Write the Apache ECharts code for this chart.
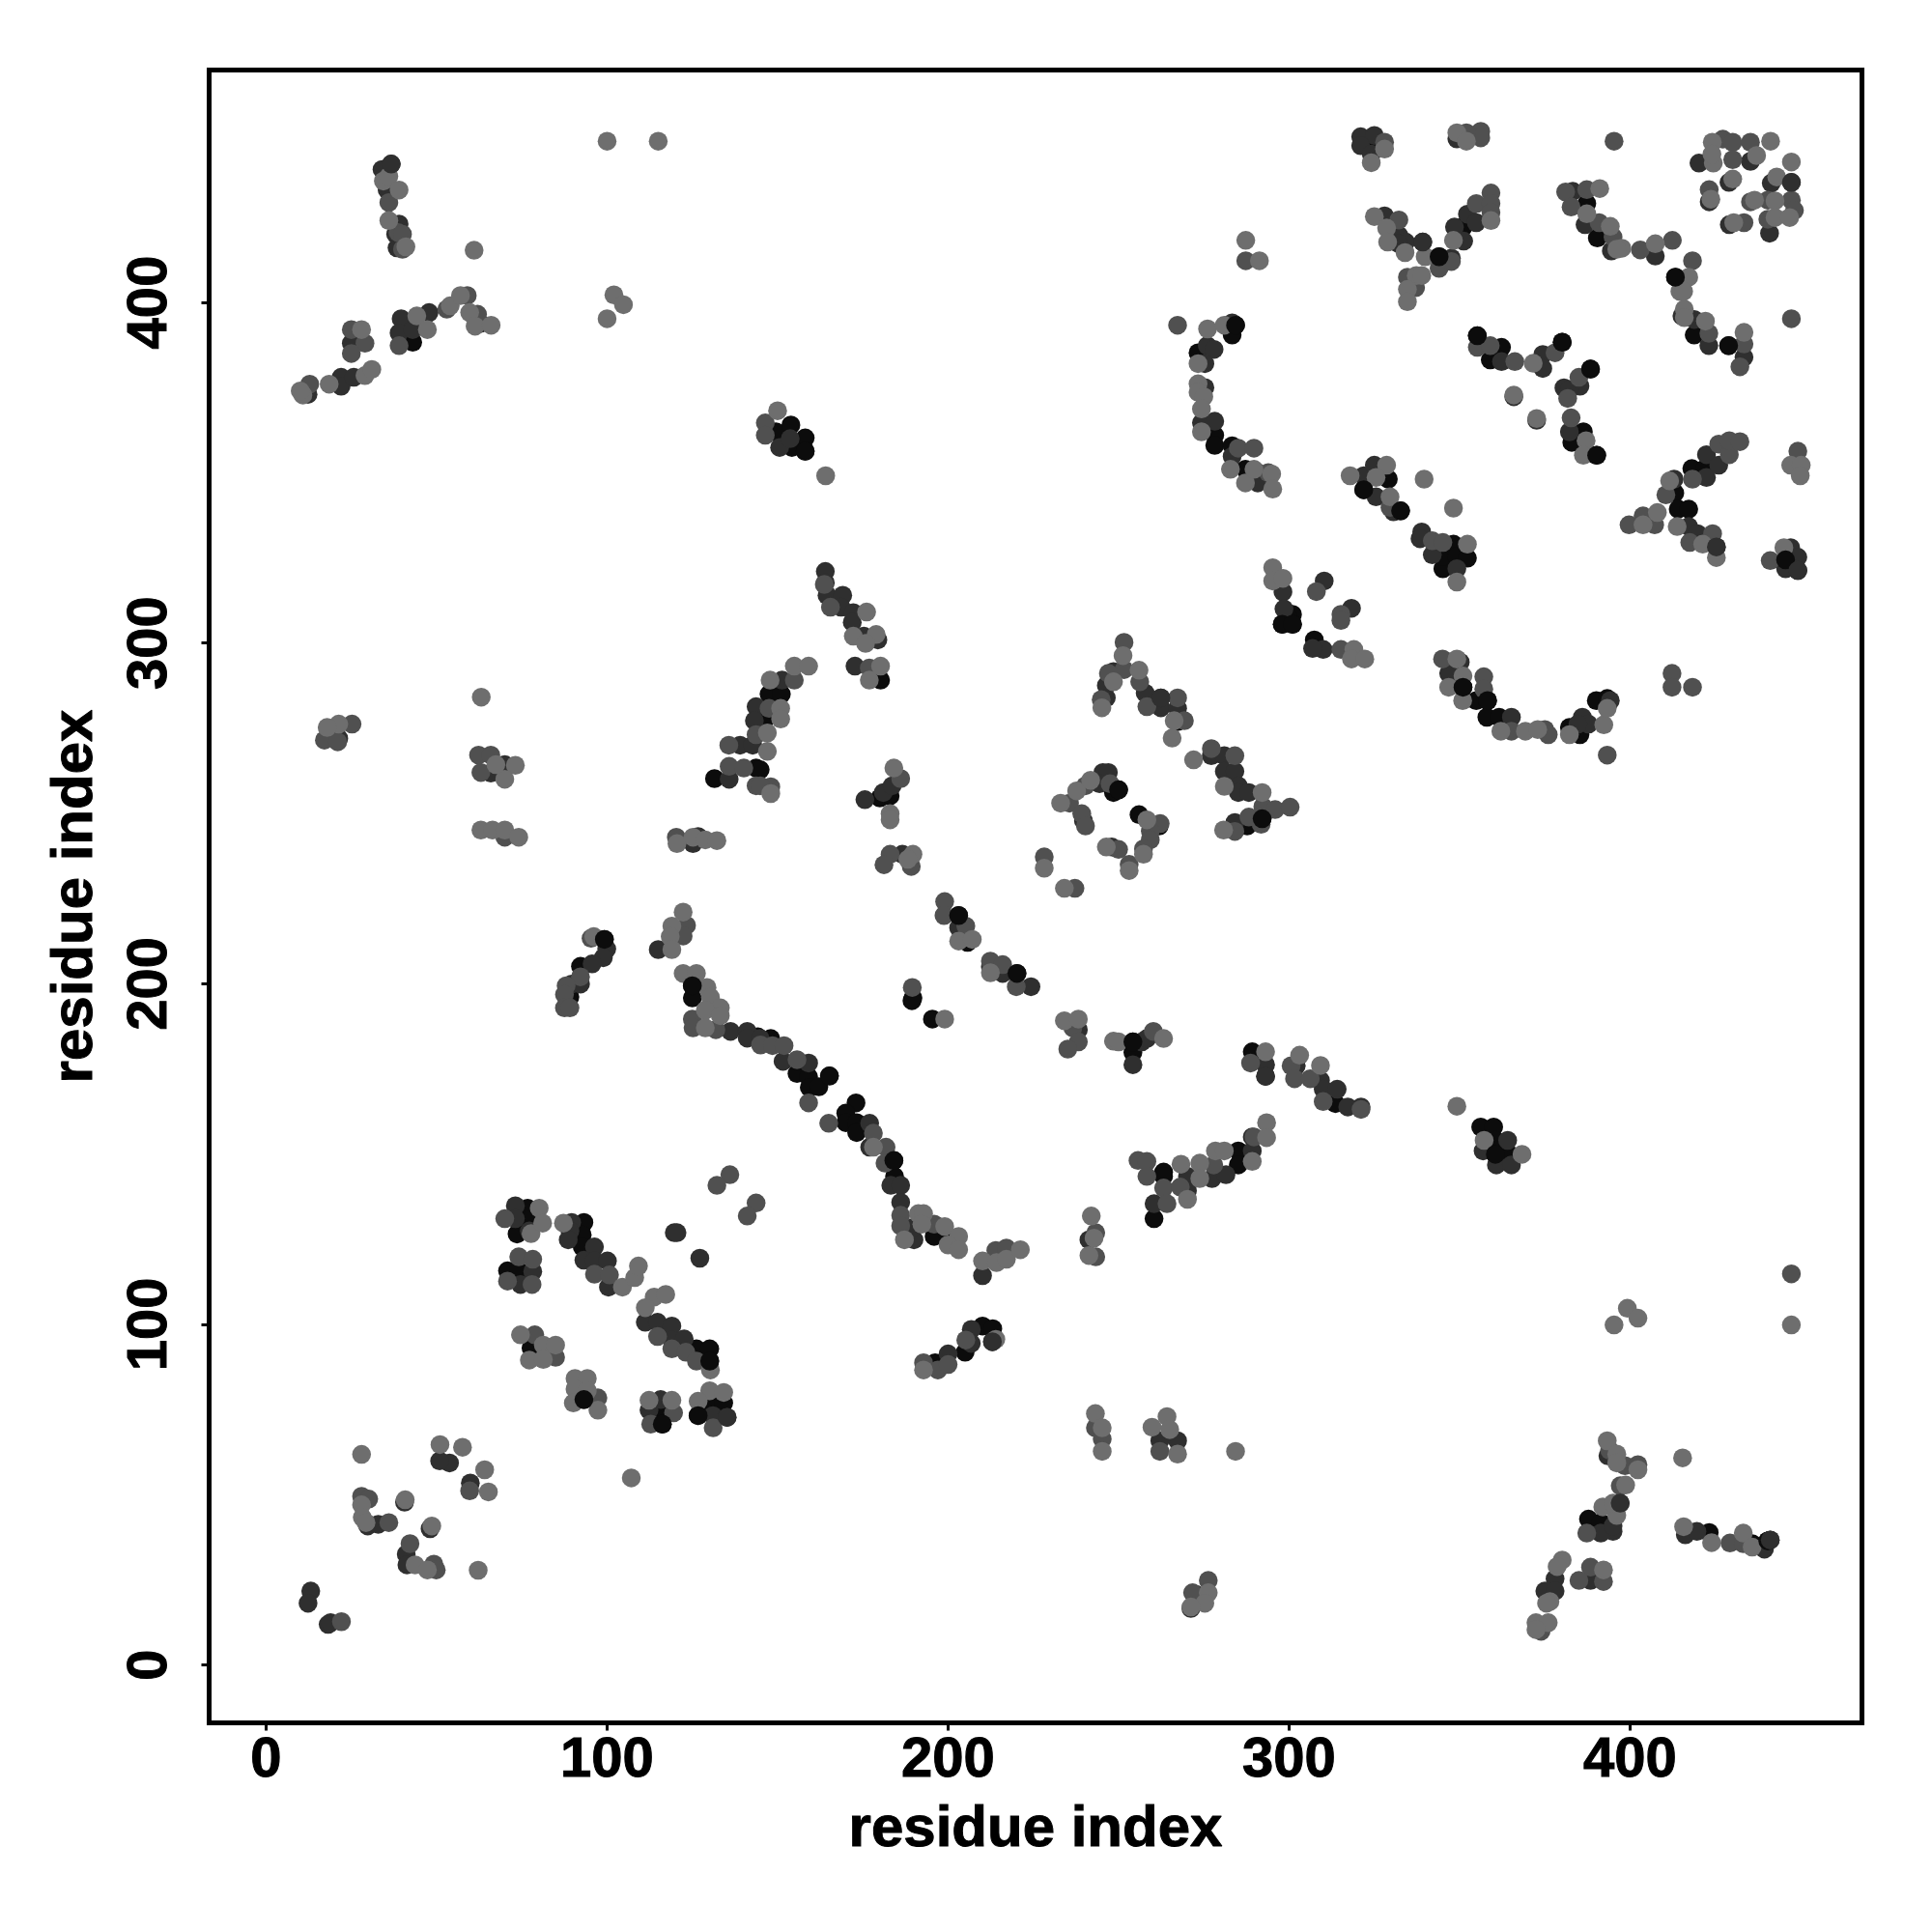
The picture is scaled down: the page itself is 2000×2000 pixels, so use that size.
<!DOCTYPE html>
<html><head><meta charset="utf-8"><style>html,body{margin:0;padding:0;background:#fff}#c{width:2000px;height:2000px}</style>
<script src="https://cdn.jsdelivr.net/npm/echarts@6/dist/echarts.min.js"></script></head><body><div id="c"></div>
<script>
const tickValues=[0,100,200,300,400];
const axisTitle='residue index';
const shadeBlack=[[43,388.3],[284.3,393.3],[283.3,390.4],[273.3,385.2],[278.2,361],[278.2,358],[283.3,357.9],[287.2,351],[290.8,350],[149.5,362],[153.9,364],[154.2,357.4],[158.1,360.2],[158.1,356.3],[301,308.4],[298,305.5],[301,305.5],[299.5,308],
[324,446.5],[351.2,422.3],[344,413.4],[387.3,429],[390.4,418.9],[413.3,407.4],[418.8,390.4],[428.9,387.3],[355.2,390.2],[359,383.1],[362.3,386.8],[380.1,388.3],[388.4,380.4],[386.3,362],[382.9,358.9],[390.2,355.1],[321.9,345],[329.1,348.1],[332.7,338.8],[348.2,329],[345.1,321.8],[345.1,325.4],[349.2,325.4],[352.3,324.9],[413.1,344],[414.1,339.3],[417.2,339.3],[418.1,351.2],[421.9,351.2],[445.6,324.4],
[131.5,260.2],[143.7,263.3],[99.2,213],[92.2,205.1],[89.1,196.1],[125,199.4],[125,195.8],[144.2,184.4],
[147.5,285],[151.1,285],[146.4,277.7],[144.9,262.8],[180.2,289.1],[267.3,276.9],[292.1,248.4],[287.7,246.3],[248.5,256.1],[250,256.9],[256,249.6],[261.9,246.3],[180,254.5],[183,255.1],[203.1,220],[205.7,212.1],[220.2,203],[189.7,195.8],[189.4,195],[195.4,189.6],[254.2,182.9],[254.2,179.8],[289.2,180],[148,183.9],[155.7,173.6],[159.1,172.6],[165.2,172.9],[159.3,169.5],[162.1,169.7],[173,165],[170,162],[170,159.2],[173.2,159.2],[173.2,156.3],[184.1,148.1],[263.2,144.7],[285.1,150.9],[285.1,146.8],
[307.4,300.9],[350.2,291.1],[351,287],[354.9,283.1],[358.2,283.1],[358,278.2],[361.6,278.2],[382.2,275.2],[385.3,273.1],[390.1,283.1],[393.3,283.7],[313.6,164.8],[356.2,157.9],[360,157.9],[360.5,154],[360.5,149.9],[364.6,149.9],
[76.7,134.1],[76.7,130.5],[73.6,126.5],[70.8,115.7],[74.1,115.7],[93.2,129.9],[92.7,126.3],[92.7,122.7],[126.2,92.8],[130.1,92.8],[130.1,89.2],[77.7,93],[93.2,77.9],[115.7,73.8],[116.2,70.7],[130.3,76.9],[134.2,76.9],[126.7,73.2],
[184.3,143.4],[263.2,143.4],[260.4,131],[196.2,88.7],[205,91.8],[210.1,99.5],[213.1,98.7],[195.9,125.8],[200,125.8],[387.8,42.8],[391.4,41.8],[423.2,38.9],[435.8,35.6],[440.4,36.4]];
const shadeDark=[[36.7,440.6],[34,439],[35.5,433],[39,423],[38,420],[38.4,416],[12.3,373],[22,378],[22,375.4],[25.7,378],[25,388],[39.6,395.2],[39,391],[43,392],[47.8,397],[62.8,393.8],
[283.3,394],[276,387.3],[278,386.2],[275.3,382],[275.3,375],[274.3,364.6],[278.2,365.1],[283.3,354.8],[290.8,347],[150.6,357.4],[153.7,360],[164,321],[164,317.7],[164.5,314],[169.1,314],[168.6,310.5],[172.2,308.9],[298.2,315],[298.5,310],
[321,448.6],[325,449],[321,446],[324.1,443.5],[349.2,448],[420.2,440.9],[435.3,441.4],[429,435.2],[423.2,429.5],[441.4,435],[447.3,435.2],[440.9,420.3],[429.1,422.8],
[328,425.4],[332.2,419.7],[334.2,417.7],[332.2,417.2],[339.2,417.7],[347.6,413],[348.5,422.1],[351.2,418],[352.3,425.9],[354.9,423.4],[383.2,432.6],[386.8,422.8],[394.5,415.1],[407.4,413.6],[415.2,396],[418.8,395],[423.1,387.3],[433.4,383.9],
[362.3,382.6],[374.4,384.7],[374.4,380.6],[365.9,372.3],[372.6,365.4],[385.3,375.4],[380.6,374.9],[382.2,374.4],[382.2,362],[321.9,349.1],[325,352.2],[325.5,342.9],[330.6,338.5],[338.9,332.6],[338.4,330.6],[342,325.9],[349.2,321.8],[310.3,318.2],[318.3,310.2],
[412.9,348.1],[417.2,334.2],[419.8,332.1],[425.3,328.2],[422.4,348.6],[422.4,355.3],[426,352.2],[447.1,328],[449.2,325.2],[445.6,321.8],[449.2,321.3],
[21.3,272],[65.9,261.8],[70,264.3],[126.7,243.2],[125.2,241.1],[139,270],[135.8,260],[143.7,281.3],[143.2,277.2],[142.7,270],[99.9,210.2],[98.9,207.6],[95.6,205.8],[89.6,199.9],[92.2,199.9],[115,210],[136.2,186],[141.1,186],[141.1,184],
[151.3,289.1],[171.9,306.1],[175.3,302],[179.4,300.9],[172.7,293.2],[248.5,291.6],[246.4,287.5],[246.4,283.9],[257.8,285.3],[262.4,283.9],[262.4,281],[267.3,280.8],[277.2,266.9],[281,266.9],[281,262.3],[284.1,262.3],[285.1,258.1],[285.1,256.1],[288.2,256.1],[284.1,247.3],
[245.4,262],[247,262],[244.4,258.7],[239.7,247.8],[248,240.1],[175.6,254],[181,256.1],[183.6,258.1],[186.6,238],[203.1,216.4],[212.4,205],[216,203],[224.3,199.1],[238.2,186.5],[256.8,182.9],[258.3,183.9],[254.2,176.2],[293.1,176.2],[293.1,172.8],[302.1,175.9],
[144.9,183.9],[151.6,177.2],[159.1,176.7],[177,159],[177,152],[289.2,155],[289.2,150.9],
[310,298.1],[306.9,298.4],[350.2,294.4],[346.8,291.1],[365.2,278.2],[386,278.2],[387.8,276.2],[384.7,276.2],[394.2,283.1],[309.2,171.6],[310,169],[314.1,169],[317.2,163.8],[321.1,163.8],[356.9,150.9],[364.1,154],[360.8,146.8],[365.2,146.8],
[119.7,126.9],[120.5,126.9],[127.2,119.4],[73.1,134.8],[73.1,131],[77.2,127.4],[78.2,115.5],[74.6,111.7],[89.6,129.9],[89.1,127.4],[88.6,124.8],[96.3,122.7],[93.2,118.8],[96.3,118.6],[100.1,118.6],[100.4,110.9],[111.2,100.6],[114.8,100.6],[119,99.5],[119,95.4],[122.6,95.7],[115.7,77.9],[112.3,74.8],[131,73.2],[135.2,72.7],
[53.8,59.3],[50.9,59.9],[59.9,53.4],[40.6,47.8],[29.8,40.8],[32.9,41.3],[48.1,40],[41.1,32.5],[41.3,29.4],[13.1,21.7],[12.3,18.1],[18.2,11.9],[18.9,12.4],
[183.2,140.8],[186.1,140.8],[186.1,135.8],[190,124.8],[189.7,128.4],[210.1,114.3],[241.3,124.8],[260.4,135.4],[270.2,143.4],[270.2,139.2],[277.4,142.8],[281.5,143.9],[200,91.3],[206.8,98.5],[206.8,94.4],[213,94.9],[262.1,65.8],[267.3,65.8],[272.7,20.7],[271.2,16.6],
[393.5,61.4],[397.1,47.5],[395,39.2],[391.4,38.7],[395,40.8],[378,25.3],[375,21.7],[378,21.7],[388.4,24.8],[416.2,38.2],[419.6,39.2],[439.4,34],[441.1,36.7]];
const shadeMid=[[38.7,420.5],[40,420],[40,415.6],[12.8,376],[36,429.3],[25,392],[29,388],[25,385],[39,387.3],[53,398],[59,402],[62,396.5],
[287.3,412.2],[267.3,393.3],[285.1,357.2],[289.7,357.2],[293.9,350],[146.4,364.6],[146.4,361],[163.7,317.2],[165.5,310.5],
[328,447],[356.2,450.2],[356.2,448.3],[352,449.8],[395.3,447.3],[427.2,447.9],[430.1,447],[430.1,441.9],[435.3,447],[423.2,433.1],[435.3,429.5],[447.3,430],[448.2,427],[440.4,430],[440.4,424.4],[433.4,423.4],
[332.2,424.2],[344,410],[347.6,412],[334.7,407.4],[337.1,404.3],[354.9,429],[359.2,432.1],[359.2,429],[359.2,426.4],[381.1,432.4],[387.3,433.1],[382.7,428],[390.9,423.4],[395,419.2],[403,415.4],[412.4,418.2],[418.3,412.2],[423.1,390.9],[433.4,387.8],[432.2,381.1],[447.3,395.2],
[355.2,386.8],[359,387.3],[366.2,382.6],[378,385.2],[385,378],[381.7,371.8],[382.7,366.1],[329.6,339.8],[342,330],[345.1,329.5],[308,315.1],[315.2,308.4],
[399.7,334.7],[403.8,337.3],[407.2,334.7],[410.5,343.5],[417.5,329.5],[424.2,332.1],[418.3,348.1],[426,358.4],[429.1,355.3],[429.1,359.4],[432.2,359.1],[449.2,356.3],[441.1,324.2],
[25.2,276.2],[17.1,271.5],[21,271],[62.3,267.1],[65.9,267.1],[63,262],[70,243],[120.3,243],[135.7,270],[135.8,263.8],[140.1,263.3],[143.7,258.1],[143.7,273.1],[95.3,213.3],[92.2,202],[88,199.4],[87.5,196.8],[87.5,192.9],[89.1,192.9],[123.3,217.1],[122.3,214],[125,189.6],[125.2,187],[131.9,186.5],[145,182],
[154.9,289.1],[147.5,280.8],[148,257.8],[144.9,258.1],[176.9,292.7],[251.6,300.2],[251.6,292.2],[247,291.1],[244.9,283.4],[256.2,288.6],[258.3,281.3],[267.3,283.9],[269.3,277.2],[277.2,269],[284.1,266.9],[292.3,252],[295.9,251.1],[300.3,251.8],[291.8,246.8],[288.2,248.9],[284.1,244.7],
[235.6,253],[240.3,258.1],[247.5,258.7],[239.2,249.9],[240.3,246.3],[262.2,247],[259.3,244.8],[259.3,242.2],[257.3,239.6],[250,239.4],[253.1,235],[228.2,237.2],[237.2,228],[186.1,260.2],[183,238],[181.2,234.9],[189.2,234.4],[199,224.1],[198.8,220],[205.2,216.9],[212.4,206.6],[216,205.6],[220,199.1],[189.5,198.9],[236.6,187],[238.2,182.9],[235.1,180.8],[260.2,186],[288.7,176.7],[300.6,175.9],[301.6,172.1],[306.2,172.1],
[148.5,181.8],[151.9,181.8],[155.7,177.7],[159.1,165],[165,159],[178.1,156.1],[181.8,152],[181.5,147.3],[255.7,148.1],[258.3,147.8],[277.9,146.8],[289.7,155],
[315.2,298.1],[315.2,306.6],[345,295.3],[357.1,290.1],[357.1,286.5],[365.2,274.1],[375,274.6],[376,273.1],[393.3,267.1],[412.3,291.1],[412.3,287],[418.3,287],[310,165.4],[321.1,163.1],
[136,143.9],[132.2,140.8],[143.7,135.6],[141.1,131.8],[70,131],[74.1,119.8],[78.2,119.1],[70.8,112.7],[78,111.7],[96.3,114.7],[100.7,114.5],[119,92.8],[123.1,91.8],[126.2,89.2],[114.8,96.4],[78.8,96.9],[84.9,90.3],[97.3,78.4],[119.5,74],[112.8,70.7],[131.1,69.6],
[59.7,51.1],[28,49.5],[30.1,48.7],[36,41.8],[42.2,35.6],[49.2,29.6],[49.9,27.9],[22.1,12.7],
[186.1,132],[186.1,128.9],[195.9,129.4],[214,121.7],[217.1,122.4],[243.3,126.9],[243.3,119.8],[258.3,143.4],[263.2,140],[264.2,135.4],[268.1,140.3],[192.8,88.7],[197,86.6],[200,88.2],[205.2,95.4],[243.2,69.6],[245.2,66.3],[262.1,62.7],[276.3,24.8],[271.7,21.2],
[394,63],[398.5,58.5],[402.3,58.8],[397.1,52.6],[387.3,38.7],[373.9,9.9],[388.4,28.7],[385,24.8],[392.2,24.5],[429.3,35.8],[433.2,35.6],[447.3,114.8]];
const shadeLight=[[100,447.3],[115,447.3],[34.4,435.6],[36,437],[39,433],[36,424],[41,416.3],[61,415.3],[102,402.2],[104.8,399.3],[100,395.2],[10.8,372.8],[10,374],[18.5,376],[29,378.5],[31,380.3],[28,392],[44.2,396],[47.3,392],[54,399],[57,402],[59.7,397],[61.3,393],[66,393.3],
[287.3,418.2],[291.3,412.2],[276.1,392.2],[281,393.3],[273.3,382],[273.3,376.1],[273.3,373.6],[275,372.3],[274.3,368.7],[274.3,362],[282.8,351],[287.2,347],[289.7,351],[294.9,349.6],[295.2,345.2],[150,368.2],[164.1,349.1],[176.1,309.1],[295.2,322.1],[295.2,318.2],[298.2,319],
[328,445],[324.1,441],[349.2,449.8],[352,447.3],[424.1,447],[441.2,447.3],[447.3,441.2],[424.4,440.9],[424,443.5],[437.1,443.1],[430.1,436.2],[423.7,430.3],[443,436.8],[436.5,430],[442.5,429.8],[442.5,424.9],[446.8,424.9],[430.4,423.4],
[325,425.2],[328.6,421.8],[328.9,417.7],[334,414.6],[339.9,413.4],[337.3,407.9],[338.9,407.9],[334.7,403.8],[334.7,400.2],[348.2,418.2],[359.2,424],[391.1,433.4],[387.3,426],[394.2,422.3],[397.6,415.9],[396.1,415.6],[407.4,417.2],[417.2,407.4],[414.6,403.2],[415.7,403.2],[415.9,398],[415.9,395.5],[422.1,394.5],[433.4,391.2],
[371.6,382.1],[365.9,372.8],[372.6,365.9],[387.1,359.4],[386.3,355.1],[317.9,349.1],[328.6,352.2],[325.5,348.6],[329.6,342.9],[339.6,348.1],[348.2,339.6],[352.3,329],[349.2,317.9],
[403.8,334.7],[408,338.3],[411.6,347.6],[413.8,334.2],[421.3,329],[425.3,325.1],[447.1,352.2],[450.2,352.2],[449.9,349.1],[445.1,328],
[63.1,284.1],[21.3,276.2],[17.9,275.2],[73.1,264.1],[70,260],[67.4,264.3],[63,245.1],[66.4,245.1],[70,245.1],[74.1,243],[120.5,241.1],[125.2,243],[128.8,242.2],[132.2,242],[96.1,213.8],[122.3,221],[119,216.9],[118.5,213.8],[119,210],[122.3,203],[126.2,203],[129.3,198.9],[130.3,196],[133.2,192.9],[128.8,192.2],[133.2,190.6],[128.8,187],
[154.9,293.2],[159.1,293.2],[147.8,289.1],[150.9,280.8],[150.9,277.7],[147,273.6],[147,268.2],[148,255.8],[172.2,302],[178.9,302.5],[175.8,299.9],[176.9,289.1],[180.2,293.2],
[251.3,296.3],[256,292],[248.5,288.6],[245.1,281],[266.3,277.2],[265.7,272.1],[272,265.7],[281,257.9],[292.1,256.1],[280.8,245.1],
[233,253],[237.7,256.6],[241.8,259.7],[258.3,248.1],[257.3,238],[246.4,240.1],[253.1,233.2],[228.2,233.9],[234.1,228],[183,249.9],[183,248.1],[184.1,263.3],[189.7,238],[188.2,236.5],[203.1,212.5],[207.1,213],[212.4,203.2],[199,189.6],[234.1,189.1],[238.2,189.6],[248.5,183.1],[250,182.9],[263.2,183.9],[293.1,180],[303.1,179],
[178.1,152],[268.3,147],[273.8,147.3],[278.4,150.9],[281,150.9],[293.4,159.2],[293.4,154.8],[289.2,147.8],
[319,298.1],[318.3,295.3],[322.2,295.3],[349.2,295.3],[351,290.3],[346.8,287],[350.9,283.1],[362.1,274.1],[369.3,274.1],[372.9,274.6],[382.2,273.1],[392.3,276],[393.3,280.8],[309.2,176],[349.2,164],[357.2,154],[368.3,149.9],
[80.1,134.1],[77.7,126.6],[81.1,129.7],[87.2,129.7],[104.5,110.9],[108.1,113.7],[109.2,117.1],[113.8,108],[117.2,108.8],[111.2,104.9],[130.3,86.6],[74.6,96.9],[81.3,93.9],[84.9,93.9],[77.2,89.5],[81.3,89.7],[90.6,84.1],[94.2,84.1],[90.6,81],[90.1,76.9],[97.3,74.8],[94.2,80.5],[112.3,77.7],[119,77.7],[130.1,80.5],[126.7,77.4],[134.2,80],
[28,61.8],[51,64.7],[57.6,63.9],[64.1,57.3],[65.2,50.8],[107.1,54.9],[28,47],[40.8,48.5],[28.2,43.3],[29.3,41.8],[48.6,40.8],[43.7,29.4],[47.3,27.9],[62.2,27.8],
[187.2,124.8],[191.3,132.5],[192.8,132.5],[192.3,129.4],[199,128.7],[203.1,125.8],[200,123.3],[203.1,121.9],[210.1,118.6],[214.2,118.1],[217.1,119.1],[221.2,121.9],[242,131.8],[242.8,125.3],[241.3,120.2],[270.2,136.7],[273.8,142.8],[192.8,86.6],[214,95.6],[243.2,73.8],[245.2,69.6],[245.2,62.7],[264.2,72.9],[259.8,69.8],[265,69.1],[267.3,61.9],[284.3,62.7],[276.3,21.2],[275.3,18.1],[271.2,17],
[399.2,104.7],[402.3,101.8],[395.3,99.8],[447.3,99.8],[415.4,60.8],[393.3,65.8],[396.1,61.9],[396.1,59.3],[402.3,57.3],[398.7,52.8],[392,46.4],[396.1,43.9],[395,47.5],[380.1,30.8],[378.6,28.9],[376.5,18.6],[375.5,18.1],[372.4,12.4],[376,12.4],[372.4,10.4],[392.2,27.9],[415.7,40.6],[423.9,35.9],[433.2,38.7],[435.8,34.6]];
const topBlack=[[390.2,355.1],[355.2,390.2],[380.1,388.3],[388.4,380.4],[413.3,407.4],[344,413.4],[428.9,387.3],[321.9,345],[332.7,338.8],[445.6,324.4],[292.1,248.4],[250,256.9],[220.2,203],[203.1,220],[254.2,182.9],[165.2,172.9],[184.1,148.1],[298,305.5],[301,305.5],[358.2,283.1],[351,287],[284.3,393.3],[158.1,356.3],[99.2,213],[125,199.4],[126.7,73.2],[116.2,70.7],[93.2,77.9],[130.1,89.2],[360.5,149.9],[440.4,36.4]];
const topDark=[[425.3,328.2],[447.3,435.2],[339.2,417.7],[293.1,172.8],[262.4,283.9],[441.1,36.7],[449.2,321.3],[36.7,440.6],[135.2,72.7],[397.1,47.5],[213,94.9]];
const tiers=[[shadeBlack,'#0c0c0c'],[shadeDark,'#2f2f2f'],[shadeMid,'#505050'],[shadeLight,'#6e6e6e'],[topBlack,'#0c0c0c'],[topDark,'#2f2f2f']];
const font='"Liberation Sans"';
const axis=(min,max,gap,rot,margin)=>({type:'value',min,max,name:axisTitle,nameLocation:'middle',nameGap:gap,nameRotate:rot,
 nameTextStyle:{fontFamily:font,fontWeight:'bold',fontSize:60,color:'#000',textBorderColor:'#000',textBorderWidth:1},
 splitLine:{show:false},axisLine:{show:false,onZero:false},
 axisTick:{show:true,length:8,customValues:tickValues,lineStyle:{color:'#000',width:3}},
 axisLabel:{show:true,customValues:tickValues,margin,rotate:rot,fontFamily:font,fontWeight:'bold',fontSize:58,color:'#000',textBorderColor:'#000',textBorderWidth:1}});
const chart=echarts.init(document.getElementById('c'),null,{renderer:'canvas'});
chart.setOption({animation:false,backgroundColor:'#fff',
 grid:{show:true,left:216.5,top:72.5,width:1711,height:1711,borderColor:'#000',borderWidth:5,backgroundColor:'transparent'},
 xAxis:axis(-16.7,468,81,0,10),yAxis:axis(-17,468.2,108,90,32),
 series:tiers.map(([data,color])=>({type:'scatter',data,symbol:'circle',symbolSize:19.5,itemStyle:{color,opacity:1},silent:true}))});
</script></body></html>
